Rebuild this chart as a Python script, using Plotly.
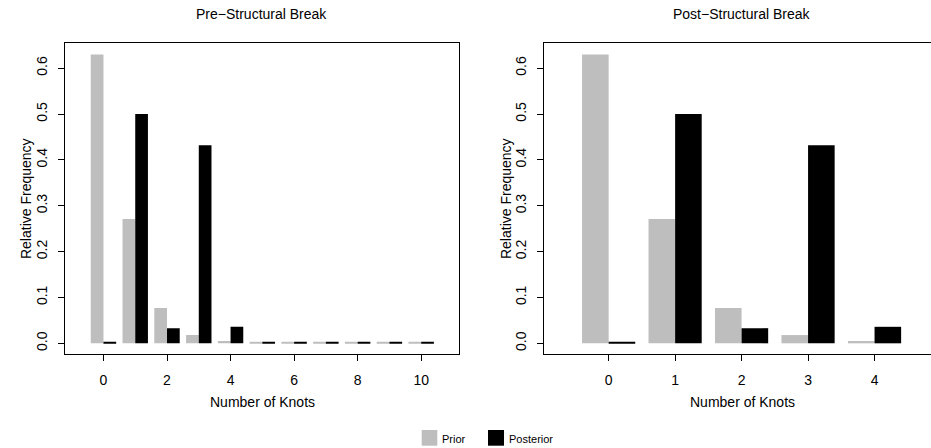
import plotly.graph_objects as go

# ---- data ----
knots_pre = [0, 1, 2, 3, 4, 5, 6, 7, 8, 9, 10]
prior_pre = [0.630, 0.271, 0.077, 0.018, 0.005, 0.002, 0.002, 0.002, 0.002, 0.002, 0.002]
posterior_pre = [0.002, 0.500, 0.033, 0.432, 0.036, 0.002, 0.002, 0.002, 0.002, 0.002, 0.002]

knots_post = [0, 1, 2, 3, 4]
prior_post = [0.630, 0.271, 0.077, 0.018, 0.005]
posterior_post = [0.002, 0.500, 0.033, 0.432, 0.036]

y_ticks = [0.0, 0.1, 0.2, 0.3, 0.4, 0.5, 0.6]
x_ticks_pre = [0, 2, 4, 6, 8, 10]
x_ticks_post = [0, 1, 2, 3, 4]

titles = ["Pre\u2212Structural Break", "Post\u2212Structural Break"]
x_title = "Number of Knots"
y_title = "Relative Frequency"
legend_names = ["Prior", "Posterior"]

GRAY = "#BEBEBE"
BLACK = "#000000"
FONT = "Liberation Sans, Arial, Helvetica, sans-serif"
W, H = 931, 448

fig = go.Figure()
fig.add_bar(x=knots_pre, y=prior_pre, name=legend_names[0], marker=dict(color=GRAY, line=dict(width=0)),
            xaxis="x", yaxis="y")
fig.add_bar(x=knots_pre, y=posterior_pre, name=legend_names[1], marker=dict(color=BLACK, line=dict(width=0)),
            xaxis="x", yaxis="y")
fig.add_bar(x=knots_post, y=prior_post, name=legend_names[0], marker=dict(color=GRAY, line=dict(width=0)),
            xaxis="x2", yaxis="y2")
fig.add_bar(x=knots_post, y=posterior_post, name=legend_names[1], marker=dict(color=BLACK, line=dict(width=0)),
            xaxis="x2", yaxis="y2")

# plot areas in pixels
L1, R1 = 64.7, 459.0
L2, R2 = 543.5, 931.0
TOP, BOT = 42.7, 354.0
ydom = [1 - BOT / H, 1 - TOP / H]

axis_common = dict(
    showline=True, linecolor="black", linewidth=1,
    ticks="outside", ticklen=6, tickcolor="black", tickwidth=1,
    showgrid=False, zeroline=False,
    tickfont=dict(family=FONT, size=14, color="black"),
)

fig.update_layout(
    width=W, height=H,
    margin=dict(l=0, r=0, t=0, b=0),
    paper_bgcolor="white", plot_bgcolor="white",
    barmode="group", bargap=0.2, bargroupgap=0,
    font=dict(family=FONT, size=14, color="black"),
    showlegend=False,
    xaxis=dict(domain=[L1 / W, R1 / W], range=[-1.22, 11.19], tickvals=x_ticks_pre,
               mirror=True, anchor="y", ticklabelstandoff=7, **axis_common),
    yaxis=dict(domain=ydom, range=[-0.0233, 0.6555], tickvals=y_ticks, tickformat=".1f",
               tickangle=-90, mirror=True, anchor="x", ticklabelstandoff=5, **axis_common),
    xaxis2=dict(domain=[L2 / W, R2 / W], range=[-0.98, (R2 - 609.0) / 66.4], tickvals=x_ticks_post,
                mirror=True, anchor="y2", ticklabelstandoff=7, **axis_common),
    yaxis2=dict(domain=ydom, range=[-0.0233, 0.6555], tickvals=y_ticks, tickformat=".1f",
                tickangle=-90, mirror=False, anchor="x2", ticklabelstandoff=5, **axis_common),
)

ann = []
ann.append(dict(text=titles[0], x=261.9 / W, y=1 - 14 / H))
ann.append(dict(text=titles[1], x=741.5 / W, y=1 - 14 / H))
ann.append(dict(text=x_title, x=262.5 / W, y=1 - 401.7 / H))
ann.append(dict(text=x_title, x=742.0 / W, y=1 - 401.7 / H))
ann.append(dict(text=y_title, x=26.7 / W, y=(ydom[0] + ydom[1]) / 2, textangle=-90))
ann.append(dict(text=y_title, x=506.7 / W, y=(ydom[0] + ydom[1]) / 2, textangle=-90))
for a in ann:
    a.update(xref="paper", yref="paper", xanchor="center", yanchor="middle", showarrow=False,
             font=dict(family=FONT, size=14, color="black"))

# legend (drawn below the panels)
legend_boxes = [(421.7, 437.3), (488.0, 504.0)]
legend_colors = [GRAY, BLACK]
shapes = []
for (x0, x1), col, name in zip(legend_boxes, legend_colors, legend_names):
    shapes.append(dict(type="rect", xref="paper", yref="paper", x0=x0 / W, x1=x1 / W,
                       y0=1 - 445.7 / H, y1=1 - 430.0 / H, fillcolor=col, line=dict(width=0)))
    ann.append(dict(text=name, x=(x1 + 2.5) / W, y=1 - 438.5 / H, xref="paper", yref="paper",
                    xanchor="left", yanchor="middle", showarrow=False,
                    font=dict(family=FONT, size=11, color="black")))
fig.update_layout(annotations=ann, shapes=shapes)

fig.write_html("out.html")
